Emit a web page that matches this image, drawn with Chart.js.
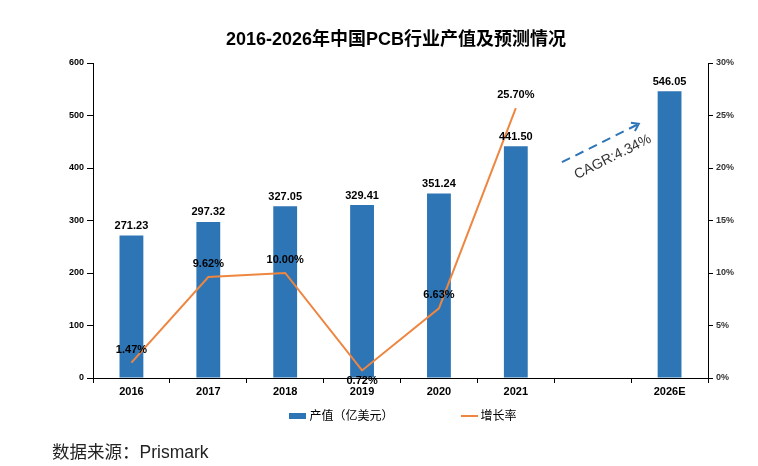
<!DOCTYPE html>
<html>
<head>
<meta charset="utf-8">
<script src="https://cdn.jsdelivr.net/npm/chart.js@4"></script>
<style>
  body { margin: 0; background: #fff; font-family: "Liberation Sans", Arial, "Noto Sans CJK SC", sans-serif; }
  #wrap { position: relative; width: 758px; height: 466px; overflow: hidden; }
  #chart { position: absolute; left: 0; top: 0; }
  #title { position: absolute; left: 0; top: 29px; width: 792px; text-align: center; font-weight: bold; font-size: 18px; line-height: 20px; color: #000; }
  #legend { position: absolute; left: 0; top: 408px; width: 806px; display: flex; justify-content: center; gap: 67px; font-size: 12px; line-height: 16px; color: #000; }
  #legend .item { display: flex; align-items: center; }
  #legend .swatch { width: 17px; margin-right: 3px; }
  #source { position: absolute; left: 52px; top: 441px; font-size: 17.5px; line-height: 22px; color: #222; }
</style>
</head>
<body>
<div id="wrap">
  <canvas id="chart" width="758" height="466"></canvas>
  <div id="title">2016-2026年中国PCB行业产值及预测情况</div>
  <div id="legend"></div>
  <div id="source">数据来源：Prismark</div>
</div>
<script>
// data
const years = ['2016', '2017', '2018', '2019', '2020', '2021', '', '2026E'];
const output = [271.23, 297.32, 327.05, 329.41, 351.24, 441.50, null, 546.05]; // 亿美元
const growth = [1.47, 9.62, 10.00, 0.72, 6.63, 25.70, null, null];            // %
const outputTicks = [0, 100, 200, 300, 400, 500, 600];
const growthTicks = [0, 5, 10, 15, 20, 25, 30];
const cagrText = 'CAGR:4.34%';

const FONT = '"Liberation Sans", Arial, "Noto Sans CJK SC", sans-serif';
const BLUE = '#2E75B6';
const ORANGE = '#EE8640';

// numbers over bars and line points
const valueLabels = {
  id: 'valueLabels',
  afterDraw(chart) {
    const ctx = chart.ctx;
    ctx.save();
    ctx.font = 'bold 11px ' + FONT;
    ctx.fillStyle = '#000';
    ctx.textAlign = 'center';
    chart.getDatasetMeta(0).data.forEach((bar, i) => {
      if (output[i] == null) return;
      ctx.textBaseline = 'bottom';
      ctx.fillText(output[i].toFixed(2), bar.x, bar.y - 4);
    });
    chart.getDatasetMeta(1).data.forEach((pt, i) => {
      const v = growth[i];
      if (v == null) return;
      const prev = growth[i - 1], next = growth[i + 1];
      const below = prev != null && next != null && v < prev && v < next;
      ctx.textBaseline = 'middle';
      ctx.fillText(v.toFixed(2) + '%', pt.x, below ? pt.y + 11 : pt.y - 13);
    });
    ctx.restore();
  }
};

// dashed CAGR arrow in the gap before 2026E
const cagrArrow = {
  id: 'cagrArrow',
  afterDraw(chart) {
    const { ctx, scales: { x, y } } = chart;
    const x0 = x.getPixelForValue(5.6), y0 = y.getPixelForValue(411);
    const x1 = x.getPixelForValue(6.6), y1 = y.getPixelForValue(484);
    const ang = Math.atan2(y1 - y0, x1 - x0);
    ctx.save();
    ctx.strokeStyle = BLUE;
    ctx.lineWidth = 2;
    ctx.setLineDash([9, 6]);
    ctx.beginPath();
    ctx.moveTo(x0, y0);
    ctx.lineTo(x1, y1);
    ctx.stroke();
    ctx.setLineDash([]);
    ctx.beginPath();
    ctx.moveTo(x1 - 8 * Math.cos(ang - 0.6), y1 - 8 * Math.sin(ang - 0.6));
    ctx.lineTo(x1, y1);
    ctx.lineTo(x1 - 8 * Math.cos(ang + 0.6), y1 - 8 * Math.sin(ang + 0.6));
    ctx.stroke();
    ctx.translate((x0 + x1) / 2, (y0 + y1) / 2);
    ctx.rotate(ang);
    ctx.font = '14px ' + FONT;
    ctx.fillStyle = '#333';
    ctx.textAlign = 'center';
    ctx.textBaseline = 'middle';
    ctx.fillText(cagrText, 5, 18);
    ctx.restore();
  }
};

const chart = new Chart(document.getElementById('chart'), {
  data: {
    labels: years,
    datasets: [{
      type: 'bar',
      label: '产值（亿美元）',
      data: output,
      backgroundColor: BLUE,
      yAxisID: 'y',
      categoryPercentage: 1,
      barPercentage: 0.31,
      order: 2
    }, {
      type: 'line',
      label: '增长率',
      data: growth,
      borderColor: ORANGE,
      backgroundColor: ORANGE,
      borderWidth: 2,
      pointRadius: 0,
      tension: 0,
      yAxisID: 'y1',
      order: 1
    }]
  },
  options: {
    responsive: false,
    animation: false,
    devicePixelRatio: 1,
    layout: { padding: { top: 63, left: 53, right: 10, bottom: 66 } },
    plugins: { legend: { display: false }, tooltip: { enabled: false } },
    scales: {
      x: {
        grid: { drawOnChartArea: false, tickLength: 5, color: '#000', offset: true },
        border: { color: '#000' },
        ticks: { font: { family: FONT, size: 11, weight: 'bold' }, color: '#000', padding: 2, maxRotation: 0, autoSkip: false },
        afterFit(s) { s.height = 22; }
      },
      y: {
        position: 'left',
        min: outputTicks[0],
        max: outputTicks[outputTicks.length - 1],
        ticks: { stepSize: outputTicks[1] - outputTicks[0], font: { family: FONT, size: 9, weight: 'bold' }, color: '#000', padding: 3 },
        grid: { drawOnChartArea: false, tickLength: 6, color: '#000' },
        border: { color: '#000' },
        afterFit(s) { s.width = 40; }
      },
      y1: {
        position: 'right',
        min: growthTicks[0],
        max: growthTicks[growthTicks.length - 1],
        ticks: { stepSize: growthTicks[1] - growthTicks[0], callback: v => v + '%', font: { family: FONT, size: 9, weight: 'bold' }, color: '#333', padding: 3 },
        grid: { drawOnChartArea: false, tickLength: 5, color: '#000' },
        border: { color: '#000' },
        afterFit(s) { s.width = 40; }
      }
    }
  },
  plugins: [valueLabels, cagrArrow]
});

// html legend from the datasets
const legend = document.getElementById('legend');
chart.data.datasets.forEach(ds => {
  const item = document.createElement('div');
  item.className = 'item';
  const sw = document.createElement('span');
  sw.className = 'swatch';
  sw.style.height = ds.type === 'bar' ? '6px' : '2px';
  sw.style.background = ds.type === 'bar' ? ds.backgroundColor : ds.borderColor;
  item.appendChild(sw);
  item.appendChild(document.createTextNode(ds.label));
  legend.appendChild(item);
});
</script>
</body>
</html>
